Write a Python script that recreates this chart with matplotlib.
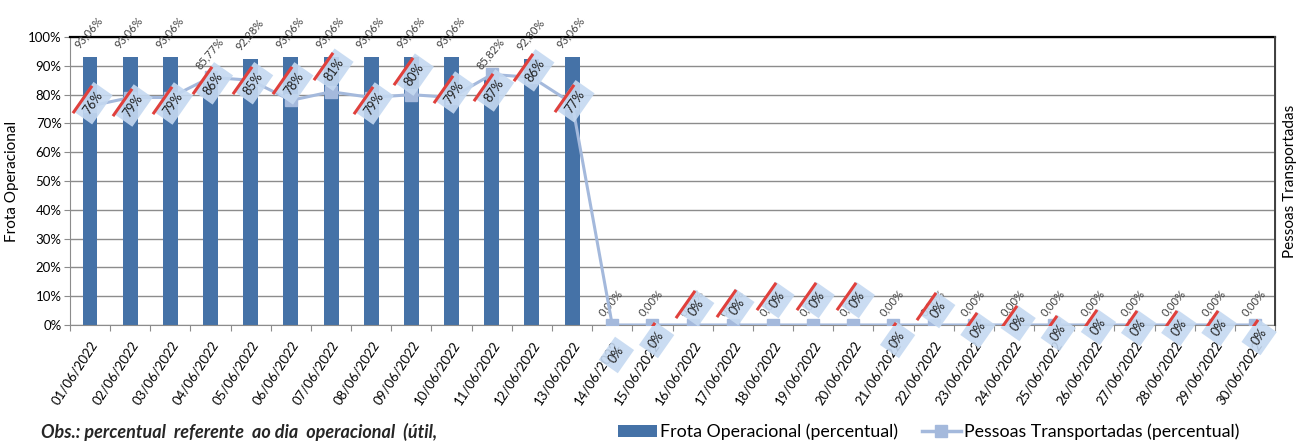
import numpy as np
import matplotlib
matplotlib.use('Agg')
import matplotlib.pyplot as plt
from matplotlib.transforms import ScaledTranslation
from matplotlib.lines import Line2D
from matplotlib.patches import Patch

plt.rcParams['font.family'] = ['Lato', 'DejaVu Sans']

# datas do mes
days = ['01/06/2022', '02/06/2022', '03/06/2022', '04/06/2022', '05/06/2022',
        '06/06/2022', '07/06/2022', '08/06/2022', '09/06/2022', '10/06/2022',
        '11/06/2022', '12/06/2022', '13/06/2022', '14/06/2022', '15/06/2022',
        '16/06/2022', '17/06/2022', '18/06/2022', '19/06/2022', '20/06/2022',
        '21/06/2022', '22/06/2022', '23/06/2022', '24/06/2022', '25/06/2022',
        '26/06/2022', '27/06/2022', '28/06/2022', '29/06/2022', '30/06/2022']

frota = [93.06, 93.06, 93.06, 85.77, 92.28, 93.06, 93.06, 93.06, 93.06, 93.06,
         85.82, 92.30, 93.06, 0.0, 0.0, 0.0, 0.0, 0.0, 0.0, 0.0,
         0.0, 0.0, 0.0, 0.0, 0.0, 0.0, 0.0, 0.0, 0.0, 0.0]

pessoas = [76, 79, 79, 86, 85, 78, 81, 79, 80, 79,
           87, 86, 77, 0, 0, 0, 0, 0, 0, 0,
           0, 0, 0, 0, 0, 0, 0, 0, 0, 0]

# deslocamento vertical dos rotulos da linha (pixels), imitando o Excel
labelShift = [3, -8, -6, -6, -3, 17, 22, -6, 20, 5, -16, 7, 2, -30, -15,
              17, 18, 25, 25, 25, -15, 15, -5, 2, -8, -2, -3, -3, -3, -12]

barColor = '#4572a7'
lineColor = '#a4b9dc'
boxColor = '#c5d9f1'
stripeColor = '#e0403c'
angle = 55

fig = plt.figure(figsize=(13.08, 4.43), dpi=100)
ax = fig.add_axes([0.0535, 0.2664, 0.9213, 0.65])
x = np.arange(len(days))

ax.bar(x, frota, width=0.37, color=barColor, zorder=2)
ax.set_ylim(0, 100)
ax.set_xlim(-0.5, len(days) - 0.5)
ax.set_yticks(range(0, 101, 10))
ax.set_yticklabels(['%d%%' % v for v in range(0, 101, 10)], fontsize=9.5)
ax.yaxis.grid(True, color='#8c8c8c', lw=1)
ax.set_axisbelow(True)

ax.set_xticks(np.arange(-0.5, len(days), 1))
ax.set_xticklabels([])
ax.set_xticks(x, minor=True)
ax.set_xticklabels(days, minor=True, rotation=57, ha='right',
                   rotation_mode='anchor', fontsize=9.5)
ax.tick_params(axis='x', which='minor', length=0, pad=10)
ax.tick_params(axis='x', which='major', length=4, color='#8c8c8c')
ax.tick_params(axis='y', length=4, color='#8c8c8c', pad=2)

for side in ['left', 'bottom']:
    ax.spines[side].set_color('#8c8c8c')
ax.spines['top'].set_color('black')
ax.spines['top'].set_linewidth(1.6)
ax.spines['right'].set_color('#404040')

for i, v in enumerate(frota):
    txt = ('%.2f%%' % v).replace('.', ',')
    ax.annotate(txt, (x[i], v), xytext=(-1, 5), textcoords='offset points',
                rotation=50, ha='center', va='bottom', fontsize=8,
                color='#404040')

# eixo secundario - pessoas transportadas
ax2 = ax.twinx()
ax2.set_ylim(0, 100)
ax2.set_yticks([])
ax2.spines['right'].set_color('#404040')
ax2.spines['right'].set_linewidth(1.4)
ax2.spines['top'].set_visible(False)
ax2.spines['left'].set_visible(False)
ax2.spines['bottom'].set_visible(False)
ax2.plot(x, pessoas, color=lineColor, lw=2.2, marker='s', ms=8,
         mec=lineColor, mfc=lineColor, zorder=3)

u = np.array([np.cos(np.radians(angle)), np.sin(np.radians(angle))])
n = np.array([-u[1], u[0]])
for i, v in enumerate(pessoas):
    dx = 3.0 if v == 0 else 2.0
    dy = labelShift[i] / 1.39
    ax2.annotate('%d%%' % v, (x[i], v), xytext=(dx, dy),
                 textcoords='offset points', rotation=angle,
                 rotation_mode='anchor', ha='center', va='center',
                 fontsize=9, color='#1f1f1f', zorder=5,
                 bbox=dict(boxstyle='square,pad=0.45', fc=boxColor,
                           ec='none', alpha=0.9))
    off = np.array([dx, dy]) + 8.2 * n - 2.5 * u
    trans = ax2.transData + ScaledTranslation(off[0] / 72, off[1] / 72,
                                              fig.dpi_scale_trans)
    ax2.plot(x[i], v, marker=(2, 0, angle - 90), ms=24, mew=2.2,
             color=stripeColor, transform=trans, zorder=6)

fig.text(0.009, 0.591, 'Frota Operacional', rotation=90, va='center',
         ha='center', fontsize=11)
fig.text(0.986, 0.591, 'Pessoas Transportadas', rotation=90, va='center',
         ha='center', fontsize=11)

handles = [Patch(fc=barColor),
           Line2D([], [], color=lineColor, lw=2.5, marker='s', ms=9)]
fig.legend(handles, ['Frota Operacional (percentual)',
                     'Pessoas Transportadas (percentual)'],
           loc='center', bbox_to_anchor=(0.71, 0.025), ncol=2,
           frameon=False, fontsize=12.8, handlelength=2.2,
           columnspacing=1.3, handletextpad=0.2)

fig.text(0.031, 0.025, 'Obs.: percentual  referente  ao dia  operacional  (útil,',
         fontstyle='italic', fontweight='bold', fontsize=13, va='center',
         color='#262626')

plt.savefig('out.png', dpi=100)
